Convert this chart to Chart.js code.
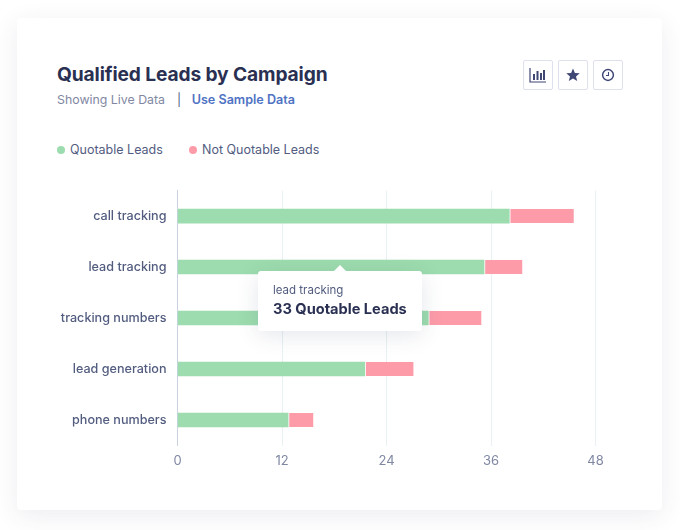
<!DOCTYPE html>
<html>
<head>
<meta charset="utf-8">
<script src="https://cdn.jsdelivr.net/npm/chart.js@4/dist/chart.umd.min.js"></script>
<style>
  html, body { margin: 0; padding: 0; background: #fff; }
  body { width: 680px; height: 530px; position: relative; overflow: hidden; font-family: Inter, sans-serif; }
  .card { position: absolute; left: 17px; top: 18px; width: 645px; height: 492px; background: #fff; border-radius: 4px; box-shadow: 0 6px 26px rgba(50, 60, 100, 0.09); }
  .title { position: absolute; left: 57px; top: 62px; font-size: 19.150px; line-height: 24px; font-weight: 700; color: #2a3052; letter-spacing: -0.1px; white-space: nowrap; }
  .sub { position: absolute; left: 57px; top: 92px; font-size: 12.350px; line-height: 16px; color: #7f87a3; white-space: nowrap; }
  .sub .sep { margin: 0 10.500px 0 12px; color: #525c7f; }
  .sub b { color: #4f73c4; font-weight: 600; font-size: 12.600px; }
  .btn { position: absolute; top: 60px; width: 28px; height: 28px; border: 1px solid #dde1ee; border-radius: 2px; display: flex; align-items: center; justify-content: center; }
  #legend { position: absolute; left: 57px; top: 141px; font-size: 12.500px; line-height: 17px; color: #525c7f; white-space: nowrap; }
  #legend span.item { position: absolute; top: 0; }
  #legend i { position: absolute; left: 0; top: 5px; width: 8px; height: 8px; border-radius: 50%; }
  #legend span.lbl { padding-left: 13px; }
  #chart { position: absolute; left: 0; top: 172px; width: 680px; height: 308px; }
  .tip { position: absolute; left: 258px; top: 271px; width: 164px; height: 60px; background: #fff; border-radius: 3px; box-shadow: 0 4px 22px rgba(50, 60, 100, 0.13); }
  .tip:before { content: ""; position: absolute; left: 76px; top: -6px; border-left: 6px solid transparent; border-right: 6px solid transparent; border-bottom: 6px solid #fff; }
  .tip .a { position: absolute; left: 15px; top: 11px; font-size: 11.500px; line-height: 16px; color: #525c7f; white-space: nowrap; }
  .tip .b { position: absolute; left: 15px; top: 29px; font-size: 14.600px; line-height: 18px; font-weight: 700; color: #2a3052; white-space: nowrap; }
</style>
</head>
<body>
<div class="card"></div>
<div class="title">Qualified Leads by Campaign</div>
<div class="sub">Showing Live Data<span class="sep">|</span><b>Use Sample Data</b></div>

<div class="btn" style="left:523px">
  <svg width="18" height="16" viewBox="0 0 18 16"><path d="M1 1V15H17" fill="none" stroke="#3f4775" stroke-width="1.2"/><rect x="4" y="7" width="2" height="6" fill="#3f4775"/><rect x="7.5" y="4" width="2" height="9" fill="#3f4775"/><rect x="11" y="6" width="2" height="7" fill="#3f4775"/><rect x="14" y="3" width="2" height="10" fill="#3f4775"/></svg>
</div>
<div class="btn" style="left:558px">
  <svg width="14" height="14" viewBox="0 0 14 14"><path d="M7 .5 8.9 4.9 13.7 5.3 10 8.4 11.2 13.1 7 10.600 2.800 13.100 4 8.400 .3 5.300 5.100 4.900Z" fill="#3f4775"/></svg>
</div>
<div class="btn" style="left:593px">
  <svg width="14" height="14" viewBox="0 0 14 14"><circle cx="7" cy="7" r="5.400" fill="none" stroke="#3f4775" stroke-width="1.500"/><path d="M7.500 4V7.500H5" fill="none" stroke="#3f4775" stroke-width="1.100"/></svg>
</div>

<div id="legend"></div>
<canvas id="chart" width="680" height="308"></canvas>
<div class="tip"><div class="a">lead tracking</div><div class="b">33 Quotable Leads</div></div>

<script>
const categories = ['call tracking', 'lead tracking', 'tracking numbers', 'lead generation', 'phone numbers'];
const quotable = [38.1, 35.2, 28.8, 21.5, 12.7];
const notQuotable = [7.4, 4.4, 6.1, 5.6, 2.9];
const seriesNames = ['Quotable Leads', 'Not Quotable Leads'];
const seriesColors = ['#9ddcae', '#fd9ba8'];
const xTicks = [0, 12, 24, 36, 48];
const legendOffsets = [0, 132];

const legend = document.getElementById('legend');
seriesNames.forEach(function (name, i) {
  const item = document.createElement('span');
  item.className = 'item';
  item.style.left = legendOffsets[i] + 'px';
  item.innerHTML = '<i style="background:' + seriesColors[i] + '"></i><span class="lbl">' + name + '</span>';
  legend.appendChild(item);
});

new Chart(document.getElementById('chart'), {
  type: 'bar',
  data: {
    labels: categories,
    datasets: [
      { label: seriesNames[0], data: quotable, backgroundColor: seriesColors[0], borderWidth: 0, barThickness: 14 },
      { label: seriesNames[1], data: notQuotable, backgroundColor: seriesColors[1], borderColor: '#fff', borderWidth: { left: 1.5 }, borderSkipped: false, barThickness: 14 }
    ]
  },
  options: {
    indexAxis: 'y',
    responsive: false,
    animation: false,
    layout: { padding: { right: 84.5, top: 0, bottom: 0, left: 0 } },
    plugins: { legend: { display: false }, tooltip: { enabled: false } },
    scales: {
      x: {
        stacked: true,
        min: 0,
        max: 48,
        afterBuildTicks: function (axis) { axis.ticks = xTicks.map(function (v) { return { value: v }; }); },
        afterFit: function (axis) { axis.height = 34.5; },
        border: { display: false },
        grid: { color: '#e8f1f3', drawTicks: false },
        ticks: { color: '#7f87a3', font: { family: 'Inter', size: 13 }, padding: 8, maxRotation: 0 }
      },
      y: {
        stacked: true,
        afterFit: function (axis) { axis.width = 177.5; },
        border: { color: '#c9d3df', width: 1 },
        grid: { display: false, drawTicks: false },
        ticks: { color: '#525c7f', font: { family: 'Inter', size: 12.600, weight: '500' }, padding: 11 }
      }
    }
  }
});
</script>
</body>
</html>
